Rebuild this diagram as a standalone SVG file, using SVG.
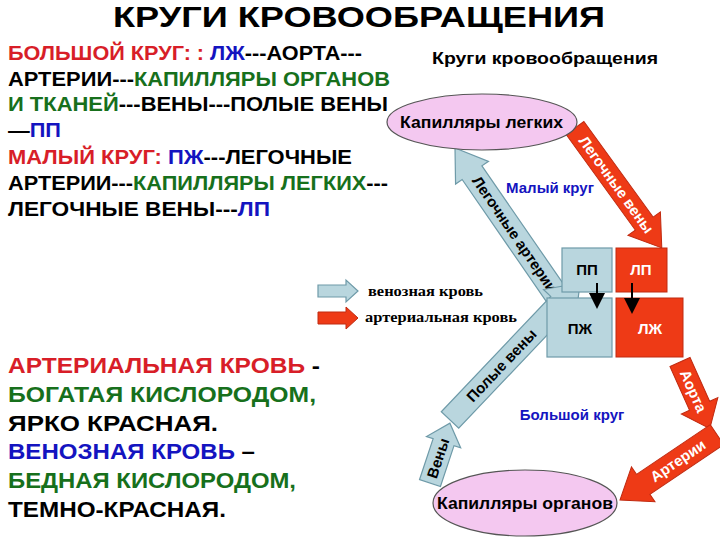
<svg xmlns="http://www.w3.org/2000/svg" width="720" height="540" viewBox="0 0 720 540">
<style>
text{font-family:"Liberation Sans",Arial,sans-serif;font-weight:bold}
.r{fill:#d81e28}.g{fill:#17701c}.b{fill:#1414c0}.k{fill:#000}
.lt{font-size:19.5px}.bt{font-size:21.5px}
.ven{fill:#b9d6de;stroke:#6e9aa8;stroke-width:1.2}
.art{fill:#ee3a16;stroke:#c02a10;stroke-width:1}
.ell{fill:#f4c8f0;stroke:#555;stroke-width:1.2}
.at{font-size:15px}
.leg{font-family:"Liberation Serif",serif;font-size:14px}
</style>
<defs>
<marker id="m" markerWidth="8" markerHeight="8" refX="6" refY="4" orient="auto"><path d="M0,0 L8,4 L0,8z" fill="#000"/></marker>
</defs>
<rect width="720" height="540" fill="#fff"/>
<text x="113" y="27" font-size="30" class="k" textLength="492" lengthAdjust="spacingAndGlyphs">КРУГИ КРОВООБРАЩЕНИЯ</text>
<g id="text-left">
<text class="lt" x="8" y="60" textLength="354" lengthAdjust="spacingAndGlyphs"><tspan class="r">БОЛЬШОЙ КРУГ: : </tspan><tspan class="b">ЛЖ</tspan><tspan class="k">---АОРТА---</tspan></text>
<text class="lt" x="8" y="86" textLength="382" lengthAdjust="spacingAndGlyphs"><tspan class="k">АРТЕРИИ---</tspan><tspan class="g">КАПИЛЛЯРЫ ОРГАНОВ</tspan></text>
<text class="lt" x="8" y="111" textLength="380" lengthAdjust="spacingAndGlyphs"><tspan class="g">И ТКАНЕЙ</tspan><tspan class="k">---ВЕНЫ---ПОЛЫЕ ВЕНЫ</tspan></text>
<text class="lt" x="8" y="137" textLength="53" lengthAdjust="spacingAndGlyphs"><tspan class="k">—</tspan><tspan class="b">ПП</tspan></text>
<text class="lt" x="8" y="164" textLength="344" lengthAdjust="spacingAndGlyphs"><tspan class="r">МАЛЫЙ КРУГ: </tspan><tspan class="b">ПЖ</tspan><tspan class="k">---ЛЕГОЧНЫЕ</tspan></text>
<text class="lt" x="8" y="190" textLength="380" lengthAdjust="spacingAndGlyphs"><tspan class="k">АРТЕРИИ---</tspan><tspan class="g">КАПИЛЛЯРЫ ЛЕГКИХ</tspan><tspan class="k">---</tspan></text>
<text class="lt" x="8" y="216" textLength="262" lengthAdjust="spacingAndGlyphs"><tspan class="k">ЛЕГОЧНЫЕ ВЕНЫ---</tspan><tspan class="b">ЛП</tspan></text>
</g>
<g id="text-bottom">
<text class="bt" x="8" y="373" textLength="312" lengthAdjust="spacingAndGlyphs"><tspan class="r">АРТЕРИАЛЬНАЯ КРОВЬ</tspan><tspan class="k">  -</tspan></text>
<text class="bt g" x="8" y="402" textLength="308" lengthAdjust="spacingAndGlyphs">БОГАТАЯ  КИСЛОРОДОМ,</text>
<text class="bt k" x="8" y="431" textLength="210" lengthAdjust="spacingAndGlyphs">ЯРКО КРАСНАЯ.</text>
<text class="bt" x="8" y="459" textLength="247" lengthAdjust="spacingAndGlyphs"><tspan class="b">ВЕНОЗНАЯ КРОВЬ</tspan><tspan class="k"> –</tspan></text>
<text class="bt g" x="8" y="488" textLength="288" lengthAdjust="spacingAndGlyphs">БЕДНАЯ КИСЛОРОДОМ,</text>
<text class="bt k" x="8" y="517" textLength="218" lengthAdjust="spacingAndGlyphs">ТЕМНО-КРАСНАЯ.</text>
</g>
<text x="432" y="64" font-size="17" class="k" textLength="226" lengthAdjust="spacingAndGlyphs">Круги кровообращения</text>
<g id="legend">
<polygon class="ven" points="318,285 346,285 346,280 358,291 346,302 346,297 318,297"/>
<text class="leg k" x="368" y="296" textLength="115" lengthAdjust="spacingAndGlyphs">венозная кровь</text>
<polygon class="art" points="318,312 346,312 346,307 358,318 346,329 346,324 318,324"/>
<text class="leg k" x="365" y="322" textLength="152" lengthAdjust="spacingAndGlyphs">артериальная  кровь</text>
</g>
<g id="connectors">
<g transform="translate(575,128) rotate(54.1)"><polygon class="art" points="0,-11 118,-11 118,-20 148,0 118,20 118,11 0,11"/><text class="at" x="70" y="5" text-anchor="middle" fill="#fff">Легочные вены</text></g>
<g transform="translate(455,148) rotate(55.4)"><polygon class="ven" points="0,0 30,-20 30,-12 185,-12 185,12 30,12 30,20"/><text class="at k" x="105" y="5" text-anchor="middle">Легочные артерии</text></g>
<g transform="translate(450,420) rotate(-46.5)"><polygon class="ven" points="0,-12 159,-12 159,-22 189,0 159,22 159,12 0,12"/><text class="at k" x="75" y="5" text-anchor="middle">Полые вены</text></g>
<g transform="translate(430,483) rotate(-71.6)"><polygon class="ven" points="0,-11 43,-11 43,-18 63,0 43,18 43,11 0,11"/><text class="at k" x="26" y="5" text-anchor="middle">Вены</text></g>
<g transform="translate(680,362) rotate(65.9)"><polygon class="art" points="0,-11 48,-11 48,-20 73,0 48,20 48,11 0,11"/><text class="at" x="32" y="5" text-anchor="middle" fill="#fff">Аорта</text></g>
<g transform="translate(620,500) rotate(-34)"><polygon class="art" points="0,0 28,-21 28,-12 117,-12 117,12 28,12 28,21"/><text class="at" x="70" y="5" text-anchor="middle" fill="#fff">Артерии</text></g>
</g>
<g id="lungs"><ellipse class="ell" cx="482" cy="122" rx="95" ry="28"/><text x="400" y="128" font-size="17" class="k" textLength="163" lengthAdjust="spacingAndGlyphs">Капилляры легких</text></g>
<g id="organs"><ellipse class="ell" cx="525" cy="503" rx="92" ry="33"/><text x="437" y="509" font-size="17" class="k" textLength="176" lengthAdjust="spacingAndGlyphs">Капилляры органов</text></g>
<text x="550" y="193" text-anchor="middle" font-size="15" class="b">Малый круг</text>
<text x="572" y="420" text-anchor="middle" font-size="15" class="b">Большой круг</text>
<g id="pp"><rect class="ven" x="562" y="248" width="50" height="44"/><text x="587" y="275" text-anchor="middle" font-size="15" class="k">ПП</text></g>
<g id="lp"><rect x="616" y="248" width="51" height="44" fill="#ee3a16" stroke="#c02a10"/><text x="641" y="275" text-anchor="middle" font-size="15" fill="#fff">ЛП</text></g>
<g id="pzh"><rect class="ven" x="547" y="298" width="65" height="59"/><text x="580" y="334" text-anchor="middle" font-size="15" class="k">ПЖ</text></g>
<g id="lzh"><rect x="616" y="298" width="67" height="59" fill="#ee3a16" stroke="#c02a10"/><text x="650" y="334" text-anchor="middle" font-size="15" fill="#fff">ЛЖ</text></g>
<g id="inner-arrows" stroke="#000" stroke-width="2">
<line x1="597" y1="283" x2="597" y2="305" marker-end="url(#m)"/>
<line x1="632" y1="283" x2="632" y2="310" marker-end="url(#m)"/>
</g>
</svg>
